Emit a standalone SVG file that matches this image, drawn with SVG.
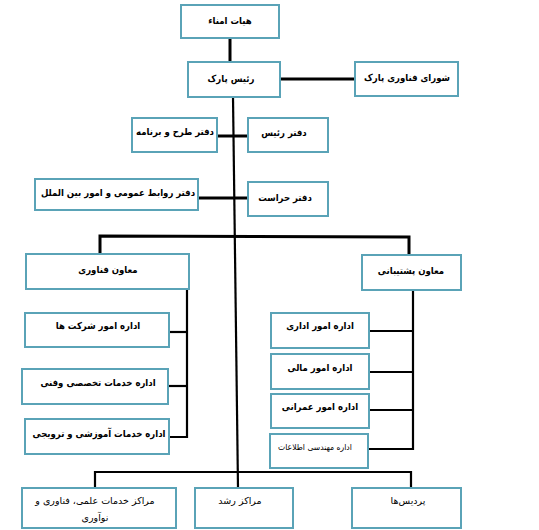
<svg xmlns="http://www.w3.org/2000/svg" width="539" height="530" viewBox="0 0 539 530">
<style>
.box{fill:#ffffff;stroke:#5aa3b7;stroke-width:2}
.ln{stroke:#000000;stroke-width:2.2;fill:none}
.lt{stroke:#000000;stroke-width:3;fill:none}
text{font-family:"DejaVu Sans Condensed","DejaVu Sans",sans-serif;font-stretch:condensed;font-size:9.5px;fill:#000;text-anchor:middle;direction:rtl}
.b{font-weight:bold}
.r{font-family:"DejaVu Sans",sans-serif;font-stretch:normal;font-size:9.5px}
</style>
<rect width="539" height="530" fill="#ffffff"/>
<g id="connectors">
<line class="lt" x1="230" y1="38" x2="230" y2="62"/>
<line class="lt" x1="280" y1="79" x2="355" y2="79"/>
<line class="ln" x1="233" y1="97" x2="238" y2="488"/>
<line class="lt" x1="217" y1="136" x2="248" y2="136"/>
<line class="lt" x1="198" y1="198" x2="248" y2="198"/>
<polyline class="lt" points="100,254 100,236 409,237 409,255"/>
<polyline class="ln" points="187,289 187,437 169,437"/>
<line class="ln" x1="169" y1="332" x2="187" y2="332"/>
<line class="ln" x1="168" y1="386" x2="187" y2="386"/>
<polyline class="ln" points="413,290 413,449 368,449"/>
<line class="ln" x1="369" y1="331" x2="413" y2="331"/>
<line class="ln" x1="369" y1="372" x2="413" y2="372"/>
<line class="ln" x1="369" y1="410" x2="413" y2="410"/>
<polyline class="ln" points="95,488 95,472 411,472 411,488"/>
</g>
<g id="n-board"><rect class="box" x="181" y="5" width="98" height="33"/><text class="b" x="230" y="24">هیات امناء</text></g>
<g id="n-head"><rect class="box" x="188" y="62" width="92" height="35"/><text class="b" x="231" y="82">رئیس پارک</text></g>
<g id="n-council"><rect class="box" x="355" y="62" width="103" height="34"/><text class="b" x="407" y="81">شورای فناوری پارک</text></g>
<g id="n-plan"><rect class="box" x="132" y="118" width="85" height="34"/><text class="b" x="175" y="135">دفتر طرح و برنامه</text></g>
<g id="n-office"><rect class="box" x="248" y="118" width="80" height="34"/><text class="b" x="284" y="136">دفتر رئیس</text></g>
<g id="n-pr"><rect class="box" x="35" y="179" width="163" height="31"/><text class="b" x="118" y="196">دفتر روابط عمومی و امور بین الملل</text></g>
<g id="n-security"><rect class="box" x="248" y="182" width="80" height="34"/><text class="b" x="285" y="201">دفتر حراست</text></g>
<g id="n-tech"><rect class="box" x="26" y="254" width="163" height="35"/><text class="b" x="108" y="273">معاون فناوری</text></g>
<g id="n-support"><rect class="box" x="362" y="255" width="99" height="35"/><text class="b" x="411" y="274">معاون پشتیبانی</text></g>
<g id="n-companies"><rect class="box" x="25" y="313" width="144" height="34"/><text class="b" x="98" y="329">اداره امور شرکت ها</text></g>
<g id="n-specialized"><rect class="box" x="22" y="369" width="146" height="35"/><text class="b" x="98" y="386">اداره خدمات تخصصی وفنی</text></g>
<g id="n-training"><rect class="box" x="25" y="419" width="144" height="35"/><text class="b" x="99" y="437">اداره خدمات آموزشی و ترویجی</text></g>
<g id="n-admin"><rect class="box" x="271" y="313" width="98" height="35"/><text class="b" x="320" y="329">اداره امور اداری</text></g>
<g id="n-finance"><rect class="box" x="271" y="354" width="98" height="35"/><text class="b" x="320" y="371">اداره امور مالی</text></g>
<g id="n-construction"><rect class="box" x="271" y="394" width="98" height="34"/><text class="b" x="320" y="410">اداره امور عمرانی</text></g>
<g id="n-it"><rect class="box" x="270" y="434" width="98" height="34"/><text x="315" y="450" style="font-size:8.5px">اداره مهندسی اطلاعات</text></g>
<g id="n-centers"><rect class="box" x="22" y="488" width="154" height="40"/><text class="r" x="95" y="504">مراکز خدمات علمی، فناوری و</text><text class="r" x="95" y="521">نوآوری</text></g>
<g id="n-incubators"><rect class="box" x="195" y="488" width="98" height="40"/><text class="r" x="240" y="504">مراکز رشد</text></g>
<g id="n-campuses"><rect class="box" x="352" y="488" width="109" height="40"/><text class="r" x="408" y="504">پردیس‌ها</text></g>
</svg>
